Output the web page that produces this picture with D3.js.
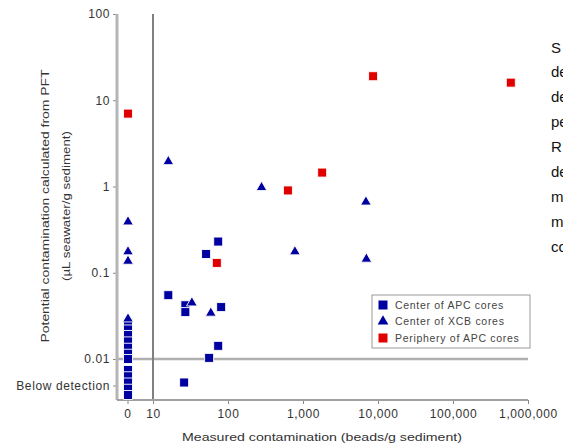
<!DOCTYPE html>
<html>
<head>
<meta charset="utf-8">
<script src="https://cdn.jsdelivr.net/npm/d3@7"></script>
<style>
body { margin: 0; background: #fff; overflow: hidden; }
svg { display: block; font-family: 'Liberation Sans', Arial, sans-serif; }
</style>
</head>
<body>
<div id="chart"></div>
<script>
// series: measured (beads/g sediment) vs potential (µL seawater/g sediment); null = below detection
const seriesNames = ['Center of APC cores', 'Center of XCB cores', 'Periphery of APC cores']
const seriesColors = ['#0000a0', '#0000a0', '#e00000']
const seriesShapes = ['square', 'triangle', 'square']

const apcMeasured = [0, 0, 0, 0, 0, 0, 0, 0, 0, 0, 0, 0, 74, 51, 16, 27, 27, 81, 74, 56, 26]
const apcPotential = [0.026, 0.022, 0.019, 0.016, 0.0135, 0.0115, 0.01, null, null, null, null, null, 0.23, 0.165, 0.055, 0.042, 0.035, 0.04, 0.0142, 0.0103, null]

const xcbMeasured = [0, 0, 0, 0, 16, 280, 780, 33, 59, 6900, 7000]
const xcbPotential = [0.4, 0.18, 0.14, 0.03, 2.0, 1.0, 0.18, 0.046, 0.035, 0.68, 0.148]

const perMeasured = [0, 8600, 590000, 1800, 630, 71]
const perPotential = [7, 19, 16, 1.45, 0.9, 0.13]

const xTicks = [10, 100, 1000, 10000, 100000, 1000000]
const yTicks = [100, 10, 1, 0.1, 0.01]
const sideText = ['S', 'de', 'de', 'pe', 'R', 'de', 'm', 'm', 'co']

const width = 563
const height = 443
const svg = d3.select('#chart')
  .append('svg')
  .attr('width', width)
  .attr('height', height)

const margin = { top: 14, right: 528, bottom: 400, left: 117 }
const xZero = 128
const bdY = 382.5
const bdStep = 6.25

const xScale = d3.scaleLog().domain([10, 1e6]).range([153, margin.right])
const yScale = d3.scaleLog().domain([0.01, 100]).range([359, margin.top])

const series = [
  { name: seriesNames[0], measured: apcMeasured, potential: apcPotential },
  { name: seriesNames[1], measured: xcbMeasured, potential: xcbPotential },
  { name: seriesNames[2], measured: perMeasured, potential: perPotential }
].map((s, k) => {
  const pts = s.measured.map((m, i) => ({ m, p: s.potential[i] }))
  // stack below-detection points per measured value
  const groups = d3.group(pts.filter(d => d.p === null), d => d.m)
  groups.forEach(g => g.forEach((d, i) => { d.off = (i - (g.length - 1) / 2) * bdStep }))
  return { ...s, color: seriesColors[k], shape: seriesShapes[k], points: pts }
})

const px = m => m === 0 ? xZero : xScale(m)
const py = d => d.p === null ? bdY + d.off : yScale(d.p)

// reference lines
svg.append('line')
  .attr('x1', margin.left).attr('x2', margin.right)
  .attr('y1', yScale(0.01)).attr('y2', yScale(0.01))
  .attr('stroke', '#b0b0b0').attr('stroke-width', 2.5)
svg.append('line')
  .attr('x1', xScale(10)).attr('x2', xScale(10))
  .attr('y1', margin.top).attr('y2', margin.bottom)
  .attr('stroke', '#808080').attr('stroke-width', 2)

// axes
const axisY = d3.axisLeft(yScale).tickValues(yTicks).tickFormat(d => String(d)).tickSize(4).tickPadding(3)
const gy = svg.append('g')
  .attr('class', 'axisY')
  .attr('transform', `translate(${margin.left}, 0)`)
  .call(axisY)
const bdTick = gy.append('g').attr('class', 'tick').attr('transform', 'translate(0,386)')
bdTick.append('line').attr('x2', -4)
bdTick.append('text').attr('x', -7).attr('dy', '0.32em').attr('text-anchor', 'end').text('Below detection')

const axisX = d3.axisBottom(xScale).tickValues(xTicks).tickFormat(d3.format(',')).tickSize(4).tickPadding(5)
const gx = svg.append('g')
  .attr('class', 'axisX')
  .attr('transform', `translate(0, ${margin.bottom})`)
  .call(axisX)
const zeroTick = gx.append('g').attr('class', 'tick').attr('transform', `translate(${xZero},0)`)
zeroTick.append('line').attr('y2', 4)
zeroTick.append('text').attr('y', 9).attr('dy', '0.71em').attr('text-anchor', 'middle').text('0')

svg.selectAll('.domain').remove()
svg.selectAll('.tick line').attr('stroke', '#888')
svg.selectAll('.tick text')
  .attr('fill', '#333')
  .attr('font-size', 12)
  .attr('letter-spacing', 0.6)

svg.append('line')
  .attr('x1', margin.left).attr('x2', margin.left)
  .attr('y1', margin.top).attr('y2', margin.bottom)
  .attr('stroke', '#b5b5b5').attr('stroke-width', 3)
svg.append('line')
  .attr('x1', margin.left).attr('x2', margin.right)
  .attr('y1', margin.bottom).attr('y2', margin.bottom)
  .attr('stroke', '#a0a0a0').attr('stroke-width', 2)

// axis titles
svg.append('text')
  .attr('x', 322).attr('y', 441)
  .attr('text-anchor', 'middle')
  .attr('font-size', 11.5)
  .attr('fill', '#333')
  .attr('textLength', 280)
  .attr('lengthAdjust', 'spacingAndGlyphs')
  .text('Measured contamination (beads/g sediment)')
const yTitle = svg.append('g').attr('transform', 'translate(0,206) rotate(-90)')
yTitle.append('text')
  .attr('x', 0).attr('y', 49)
  .attr('text-anchor', 'middle')
  .attr('font-size', 11.5)
  .attr('fill', '#333')
  .attr('textLength', 273)
  .attr('lengthAdjust', 'spacingAndGlyphs')
  .text('Potential contamination calculated from PFT')
yTitle.append('text')
  .attr('x', 0).attr('y', 70)
  .attr('text-anchor', 'middle')
  .attr('font-size', 11.5)
  .attr('fill', '#333')
  .attr('textLength', 150)
  .attr('lengthAdjust', 'spacingAndGlyphs')
  .text('(µL seawater/g sediment)')

// points
const symbolFor = shape => shape === 'triangle'
  ? d3.symbol(d3.symbolTriangle, 50)()
  : d3.symbol(d3.symbolSquare, 81)()

svg.append('g')
  .selectAll('g')
  .data(series)
  .join('g')
  .attr('fill', d => d.color)
  .attr('stroke', '#fff')
  .attr('stroke-width', 0.9)
  .each(function (s) {
    d3.select(this)
      .selectAll('path')
      .data(s.points)
      .join('path')
      .attr('d', symbolFor(s.shape))
      .attr('transform', d => `translate(${px(d.m)}, ${py(d) + (s.shape === 'triangle' ? 1 : 0)})`)
  })

// legend
const legend = svg.append('g').attr('transform', 'translate(372, 295)')
legend.append('rect')
  .attr('width', 158).attr('height', 53)
  .attr('fill', '#fff')
  .attr('stroke', '#999')
const item = legend.selectAll('.legend')
  .data(series)
  .join('g')
  .attr('class', 'legend')
  .attr('transform', (d, i) => `translate(11, ${10 + i * 16.5})`)
item.append('path')
  .attr('d', d => symbolFor(d.shape))
  .attr('fill', d => d.color)
item.append('text')
  .attr('x', 12).attr('dy', '0.35em')
  .attr('font-size', 10.5)
  .attr('letter-spacing', 0.7)
  .attr('fill', '#444')
  .text(d => d.name)

// clipped side text
svg.append('g')
  .selectAll('text')
  .data(sideText)
  .join('text')
  .attr('x', 551)
  .attr('y', (d, i) => 52.5 + i * 24.9)
  .attr('font-size', 15)
  .attr('fill', '#111')
  .text(d => d)
</script>
</body>
</html>
